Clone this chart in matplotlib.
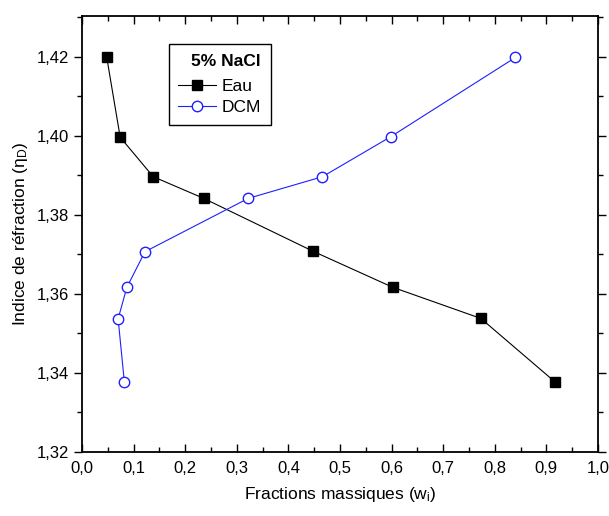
import matplotlib
matplotlib.use('Agg')
import matplotlib.pyplot as plt
from matplotlib.ticker import MultipleLocator, FuncFormatter

plt.rcParams['font.family'] = ['Liberation Sans', 'DejaVu Sans']
plt.rcParams['mathtext.fontset'] = 'custom'
plt.rcParams['mathtext.rm'] = 'Liberation Sans'
plt.rcParams['mathtext.it'] = 'Liberation Sans:italic'

# Données
eau_x = [0.048, 0.074, 0.138, 0.236, 0.448, 0.602, 0.773, 0.916]
eau_n = [1.4198, 1.3996, 1.3896, 1.3841, 1.3707, 1.3616, 1.3537, 1.3377]
dcm_x = [0.082, 0.070, 0.087, 0.122, 0.322, 0.466, 0.598, 0.840]
dcm_n = [1.3377, 1.3536, 1.3616, 1.3706, 1.3841, 1.3896, 1.3997, 1.4198]

fig = plt.figure(figsize=(6.09, 5.16), dpi=100)
ax = fig.add_axes([82 / 609, 1 - 451.5 / 516, 516 / 609, 435.5 / 516])

ax.plot(eau_x, eau_n, color='black', lw=0.8, marker='s', ms=6.5,
        mfc='black', mec='black', label='Eau')
ax.plot(dcm_x, dcm_n, color='#1f1fff', lw=0.8, marker='o', ms=7.5,
        mfc='white', mec='#1f1fff', mew=1.0, label='DCM')

ax.set_xlim(0.0, 1.0)
ax.set_ylim(1.32, 1.4303)
ax.xaxis.set_major_locator(MultipleLocator(0.1))
ax.xaxis.set_minor_locator(MultipleLocator(0.05))
ax.yaxis.set_major_locator(MultipleLocator(0.02))
ax.yaxis.set_minor_locator(MultipleLocator(0.01))
ax.xaxis.set_major_formatter(FuncFormatter(lambda v, p: f"{v:.1f}".replace('.', ',')))
ax.yaxis.set_major_formatter(FuncFormatter(lambda v, p: f"{v:.2f}".replace('.', ',')))

ax.tick_params(axis='x', which='both', direction='in', top=True, labelsize=12, pad=7)
ax.tick_params(axis='y', which='both', direction='out', labelsize=12, pad=3)
ax.tick_params(which='major', length=6, width=1.0)
ax.tick_params(which='minor', length=3.5, width=1.0)
ax.tick_params(axis='y', which='both', right=True)
for sp in ax.spines.values():
    sp.set_linewidth(1.3)

ax.set_xlabel(r'Fractions massiques ($\mathregular{w_i}$)', fontsize=12.5, labelpad=6)
ax.set_ylabel(r'Indice de réfraction ($\mathregular{\eta_D}$)', fontsize=12.5, labelpad=5)

leg = ax.legend(loc='upper left', bbox_to_anchor=(0.168, 0.935), borderaxespad=0,
                title='5% NaCl', title_fontproperties={'weight': 'bold', 'size': 12.5},
                fontsize=12.5, fancybox=False, edgecolor='black', framealpha=1,
                handlelength=2.2, handletextpad=0.3, labelspacing=0.35,
                borderpad=0.55)
leg._legend_box.align = 'right'
leg._legend_box.sep = 7
leg.get_frame().set_linewidth(1.0)

fig.savefig('out.png', dpi=100)
